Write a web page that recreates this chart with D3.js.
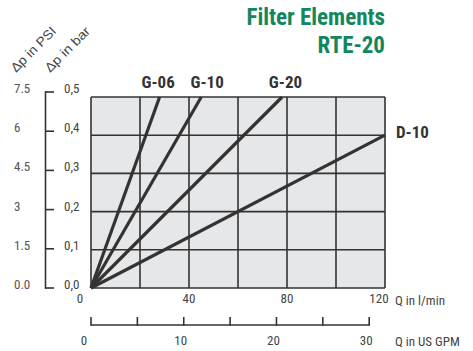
<!DOCTYPE html>
<html><head><meta charset="utf-8">
<script src="https://cdn.jsdelivr.net/npm/d3@7"></script>
<style>
body{margin:0;background:#fff;}
svg text{font-family:'Liberation Sans Narrow','Arial Narrow','Roboto Condensed',sans-serif;}
svg text.wide{font-family:'Liberation Sans',Arial,sans-serif;}
</style></head>
<body><svg id="c" width="473" height="351"></svg>
<script>
// Data
const seriesNames = ["G-06", "G-10", "G-20", "D-10"];
const seriesQ = [28, 45, 78, 120];       // flow (l/min) at end point
const seriesDp = [0.5, 0.5, 0.5, 0.4];   // pressure drop (bar) at end point
const qTicks = [0, 40, 80, 120];
const qGrid = [0, 20, 40, 60, 80, 100, 120];
const barTicks = [0, 0.1, 0.2, 0.3, 0.4, 0.5];
const barLabels = ["0,0", "0,1", "0,2", "0,3", "0,4", "0,5"];
const psiLabels = ["0.0", "1.5", "3", "4.5", "6", "7.5"];
const gpmTicks = [0, 5, 10, 15, 20, 25, 30];
const gpmLabels = [0, 10, 20, 30];
const title1 = "Filter Elements";
const title2 = "RTE-20";

const svg = d3.select("#c");
const x = d3.scaleLinear().domain([0, 120]).range([91, 385]);
const y = d3.scaleLinear().domain([0, 0.5]).range([288, 97]);
const yAxisScale = d3.scaleLinear().domain([0, 0.5]).range([288, 92]);
const gpm = d3.scaleLinear().domain([0, 30]).range([x(0), x(30 * 3.785)]);
const ink = "#333";

// plot background
svg.append("rect").attr("x", x(0)).attr("y", y(0.5)).attr("width", x(120) - x(0)).attr("height", y(0) - y(0.5))
  .attr("fill", "#e6e7e9");
// grid
svg.append("g").selectAll("line").data(qGrid).join("line")
  .attr("x1", d => x(d)).attr("x2", d => x(d)).attr("y1", y(0)).attr("y2", y(0.5))
  .attr("stroke", ink).attr("stroke-width", 1.6);
svg.append("g").selectAll("line").data(barTicks).join("line")
  .attr("x1", x(0)).attr("x2", x(120)).attr("y1", d => y(d)).attr("y2", d => y(d))
  .attr("stroke", ink).attr("stroke-width", 1.6);

// series lines
const line = d3.line().x(d => x(d[0])).y(d => y(d[1]));
svg.append("g").selectAll("path").data(seriesNames.map((n, i) => [[0, 0], [seriesQ[i], seriesDp[i]]])).join("path")
  .attr("d", line).attr("fill", "none").attr("stroke", ink).attr("stroke-width", 3.2).attr("stroke-linecap", "butt");

// series labels
const lblPos = [[x(20.6), 88], [x(40.6), 88], [x(72.6), 88], [396, 138]];
svg.append("g").selectAll("text").data(seriesNames).join("text")
  .attr("x", (d, i) => lblPos[i][0]).attr("y", (d, i) => lblPos[i][1])
  .attr("font-size", 17).attr("font-weight", "bold").attr("fill", ink).text(d => d);

// bar axis bracket
const ga = svg.append("g");
ga.append("line").attr("x1", 45.5).attr("x2", 45.5).attr("y1", yAxisScale(0) + 0.8).attr("y2", yAxisScale(0.5) - 0.8)
  .attr("stroke", ink).attr("stroke-width", 1.6);
ga.selectAll(".t").data(barTicks).join("line").attr("class", "t")
  .attr("x1", 45).attr("x2", 54).attr("y1", d => yAxisScale(d)).attr("y2", d => yAxisScale(d))
  .attr("stroke", ink).attr("stroke-width", 1.6);
ga.selectAll(".bl").data(barTicks).join("text").attr("class", "bl")
  .attr("x", 64).attr("y", d => yAxisScale(d) + 1).attr("font-size", 13).attr("fill", "#444")
  .text((d, i) => barLabels[i]);
ga.selectAll(".pl").data(barTicks).join("text").attr("class", "pl")
  .attr("x", 14).attr("y", d => yAxisScale(d) + 1).attr("font-size", 13).attr("fill", "#555")
  .text((d, i) => psiLabels[i]);

// axis titles rotated
svg.append("text").attr("class", "wide").attr("transform", "translate(16,73) rotate(-45)")
  .attr("font-size", 13).attr("fill", "#444").attr("textLength", 58).attr("lengthAdjust", "spacingAndGlyphs").text("\u0394p in PSI");
svg.append("text").attr("class", "wide").attr("transform", "translate(50,73) rotate(-45)")
  .attr("font-size", 13).attr("fill", "#444").attr("textLength", 58).attr("lengthAdjust", "spacingAndGlyphs").text("\u0394p in bar");

// Q axis labels
svg.append("g").selectAll("text").data(qTicks).join("text")
  .attr("x", d => d === 0 ? x(d) - 11 : x(d) - (d === 120 ? 6 : 0)).attr("y", 303).attr("text-anchor", "middle")
  .attr("font-size", 13).attr("fill", "#444").text(d => d);
svg.append("text").attr("x", 395).attr("y", 305).attr("font-size", 13).attr("fill", "#444").text("Q in l/min");

// GPM axis
const gg = svg.append("g");
gg.append("line").attr("x1", gpm(0)).attr("x2", gpm(30)).attr("y1", 325).attr("y2", 325).attr("stroke", ink).attr("stroke-width", 1.6);
gg.selectAll(".t").data(gpmTicks).join("line").attr("class", "t")
  .attr("x1", d => gpm(d)).attr("x2", d => gpm(d)).attr("y1", 317).attr("y2", 325.8)
  .attr("stroke", ink).attr("stroke-width", 1.6);
gg.selectAll(".l").data(gpmLabels).join("text").attr("class", "l")
  .attr("x", d => gpm(d) - (d === 0 ? 7 : 3)).attr("y", 345).attr("text-anchor", "middle")
  .attr("font-size", 13).attr("fill", "#444").text(d => d);
svg.append("text").attr("x", 395).attr("y", 346).attr("font-size", 13).attr("fill", "#444").text("Q in US GPM");

// titles
svg.append("text").attr("x", 385).attr("y", 25).attr("text-anchor", "end").attr("font-size", 23)
  .attr("font-weight", "bold").attr("fill", "#12875d").text(title1);
svg.append("text").attr("x", 385).attr("y", 53).attr("text-anchor", "end").attr("font-size", 23)
  .attr("font-weight", "bold").attr("fill", "#12875d").text(title2);
</script></body></html>
